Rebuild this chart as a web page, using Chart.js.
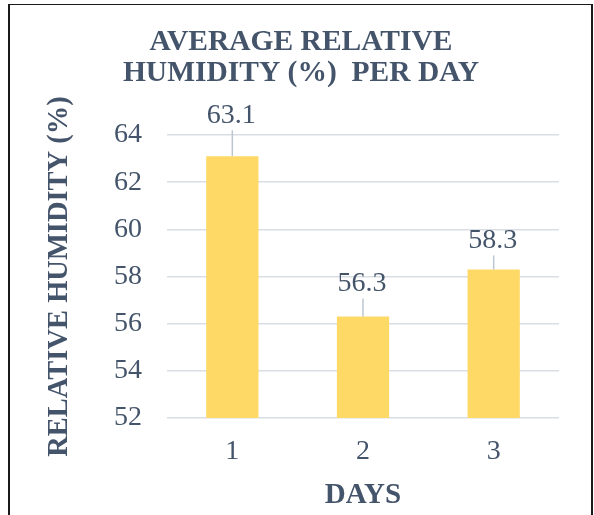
<!DOCTYPE html>
<html>
<head>
<meta charset="utf-8">
<script src="https://cdn.jsdelivr.net/npm/chart.js@4.4.0/dist/chart.umd.min.js"></script>
<style>
  html, body { margin: 0; padding: 0; background: #fff; overflow: hidden; }
  #wrap { position: absolute; left: 0; top: 0; width: 594px; height: 515px; }
  #frame {
    position: absolute; left: 8px; top: 4px; width: 585px; height: 600px;
    box-sizing: border-box;
    border-left: 2.5px solid #1a1a1a; border-top: 1.5px solid #1a1a1a; border-right: 2px solid #1a1a1a;
  }
</style>
</head>
<body>
<div id="frame"></div>
<div id="wrap"><canvas id="chart-bars"></canvas></div>
<script>
// chart data
const days = ["1", "2", "3"];
const humidity = [63.1, 56.3, 58.3];
const yTicks = [52, 54, 56, 58, 60, 62, 64];

const SERIF = '"Liberation Serif", "Times New Roman", serif';
const TEXT = "#44546A";

// draws value labels with little leader lines above the bars
const leaderLabels = {
    id: "leaderLabels",
    afterDatasetsDraw(chart, args, opts) {
        const ctx = chart.ctx;
        const meta = chart.getDatasetMeta(0);
        ctx.save();
        ctx.font = "28px " + SERIF;
        ctx.fillStyle = TEXT;
        ctx.textAlign = "center";
        ctx.textBaseline = "middle";
        meta.data.forEach(function (bar, i) {
            const off = opts.offsets[i];
            const ly = bar.y - off;
            ctx.strokeStyle = "#BCC6D1";
            ctx.lineWidth = 1.5;
            ctx.beginPath();
            ctx.moveTo(bar.x, ly + 15);
            ctx.lineTo(bar.x, bar.y);
            ctx.stroke();
            ctx.fillText(humidity[i].toFixed(1), bar.x - 1, ly);
        });
        ctx.restore();
    }
};

document.addEventListener("DOMContentLoaded", function () {
    const ctx = document.getElementById("chart-bars").getContext("2d");

    new Chart(ctx, {
        type: "bar",
        data: {
            labels: days,
            datasets: [{
                label: "Relative humidity",
                data: humidity,
                backgroundColor: "#FFD966",
                borderWidth: 0,
                barPercentage: 0.4,
                categoryPercentage: 1
            }]
        },
        options: {
            responsive: true,
            maintainAspectRatio: false,
            animation: false,
            layout: { padding: { left: 43, right: 35, top: 0, bottom: 0 } },
            plugins: {
                legend: { display: false },
                tooltip: { enabled: false },
                title: {
                    display: true,
                    text: ["AVERAGE RELATIVE", "HUMIDITY (%)  PER DAY"],
                    color: TEXT,
                    font: { family: SERIF, size: 29.5, weight: "bold", lineHeight: 31 / 29.5 },
                    padding: { top: 27, bottom: 46 }
                },
                leaderLabels: { offsets: [41, 33, 29] }
            },
            scales: {
                x: {
                    afterFit: function (axis) { axis.height = 97; },
                    grid: { display: false, drawTicks: false },
                    border: { display: false },
                    ticks: {
                        color: TEXT,
                        font: { family: SERIF, size: 28 },
                        padding: 17
                    },
                    title: {
                        display: true,
                        text: "DAYS",
                        color: TEXT,
                        font: { family: SERIF, size: 29, weight: "bold" },
                        padding: { top: 0, bottom: 2.5 }
                    }
                },
                y: {
                    min: yTicks[0],
                    max: yTicks[yTicks.length - 1],
                    afterBuildTicks: function (axis) {
                        axis.ticks = yTicks.map(function (v) { return { value: v }; });
                    },
                    afterFit: function (axis) { axis.width = 124; },
                    grid: { color: "#D9DEE4", lineWidth: 1.5, drawTicks: false },
                    border: { display: false },
                    ticks: {
                        color: TEXT,
                        font: { family: SERIF, size: 28 },
                        padding: 25
                    },
                    title: {
                        display: true,
                        text: "RELATIVE HUMIDITY (%)",
                        color: TEXT,
                        font: { family: SERIF, size: 28.5, weight: "bold" },
                        padding: { top: 0, bottom: 0 }
                    }
                }
            }
        },
        plugins: [leaderLabels]
    });
});
</script>
</body>
</html>
